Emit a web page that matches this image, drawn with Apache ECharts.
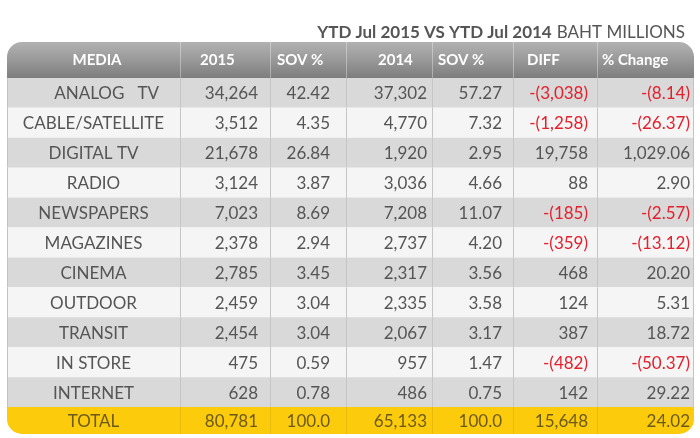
<!DOCTYPE html>
<html>
<head>
<meta charset="utf-8">
<script src="https://cdn.jsdelivr.net/npm/echarts@6/dist/echarts.min.js"></script>
<style>
  html, body { margin: 0; padding: 0; background: #fff; }
  #main { width: 700px; height: 438px; }
</style>
</head>
<body>
<div id="main"></div>
<script>
// table data
var headers = ['MEDIA', '2015', 'SOV %', '2014', 'SOV %', 'DIFF', '% Change'];
var media = ['      ANALOG   TV', 'CABLE/SATELLITE', 'DIGITAL TV', 'RADIO', 'NEWSPAPERS', 'MAGAZINES',
             'CINEMA', 'OUTDOOR', 'TRANSIT', 'IN STORE', 'INTERNET'];
var spend2015 = [34264, 3512, 21678, 3124, 7023, 2378, 2785, 2459, 2454, 475, 628];
var sov2015 = [42.42, 4.35, 26.84, 3.87, 8.69, 2.94, 3.45, 3.04, 3.04, 0.59, 0.78];
var spend2014 = [37302, 4770, 1920, 3036, 7208, 2737, 2317, 2335, 2067, 957, 486];
var sov2014 = [57.27, 7.32, 2.95, 4.66, 11.07, 4.20, 3.56, 3.58, 3.17, 1.47, 0.75];
var diff = [-3038, -1258, 19758, 88, -185, -359, 468, 124, 387, -482, 142];
var pctChange = [-8.14, -26.37, 1029.06, 2.90, -2.57, -13.12, 20.20, 5.31, 18.72, -50.37, 29.22];
var totalRow = ['TOTAL', 80781, 100.0, 65133, 100.0, 15648, 24.02];

// layout (x units = px from the table's left edge)
var colEdges = [0, 173, 263, 339, 425, 506, 590, 687];
var padRight = [0, 12, 16, 5, 11, 9, 4];
var headX = [90, 193, 270, 371, 431, 520, 595];
var decimals = [0, 0, 2, 0, 2, 0, 2];

var FONT = 'Lato';
var TEXT = '#555555';
var RED = '#e3202c';

function fmt(v, d) {
    var s = Math.abs(v).toLocaleString('en-US', {minimumFractionDigits: d, maximumFractionDigits: d});
    return v < 0 ? '-(' + s + ')' : s;
}

// build cells: r = -1 header, 0..10 body, 11 total
var cells = [];
headers.forEach(function (h, c) { cells.push({c: c, r: -1, text: h}); });
media.forEach(function (m, i) {
    var row = [m, spend2015[i], sov2015[i], spend2014[i], sov2014[i], diff[i], pctChange[i]];
    row.forEach(function (v, c) {
        cells.push({c: c, r: i, text: c === 0 ? v : fmt(v, decimals[c]), neg: c > 0 && v < 0});
    });
});
totalRow.forEach(function (v, c) {
    var d = (c === 2 || c === 4) ? 1 : decimals[c];
    cells.push({c: c, r: 11, text: c === 0 ? v : fmt(v, d)});
});

var headFill = new echarts.graphic.LinearGradient(0, 0, 0, 1, [
    {offset: 0, color: '#b2b2b2'},
    {offset: 0.5, color: '#999999'},
    {offset: 1, color: '#7d7d7d'}
]);

function renderCell(params, api) {
    var cell = cells[params.dataIndex];
    var c = cell.c, r = cell.r;
    var top = r < 0 ? -1.2 : r;
    var bot = r < 0 ? 0 : (r === 11 ? 11.9 : r + 1);
    var p0 = api.coord([colEdges[c], top]);
    var p1 = api.coord([colEdges[c + 1], bot]);
    var x = p0[0], y = p0[1], w = p1[0] - p0[0], h = p1[1] - p0[1];
    var rad = [0, 0, 0, 0];
    var fill, sep, color = TEXT, weight = 'normal', size = 17;
    if (r < 0) {
        fill = headFill; sep = 'rgba(255,255,255,0.35)'; color = '#ffffff'; weight = 'bold'; size = 15;
        if (c === 0) rad = [15, 0, 0, 0];
        if (c === 6) rad = [0, 15, 0, 0];
    } else if (r === 11) {
        fill = '#fbcb0c'; sep = 'rgba(0,0,0,0.07)'; color = '#6b5a1c';
        if (c === 0) rad = [0, 0, 0, 15];
        if (c === 6) rad = [0, 0, 15, 0];
    } else {
        fill = r % 2 === 0 ? '#d9d9d9' : '#f5f5f5'; sep = '#c6c6c6';
        if (cell.neg) color = RED;
    }
    var tx, align;
    if (r < 0) {
        tx = api.coord([headX[c], 0])[0];
        align = c === 0 ? 'center' : 'left';
    } else if (c === 0) {
        tx = x + w / 2; align = 'center';
    } else {
        tx = x + w - padRight[c]; align = 'right';
    }
    var children = [
        {type: 'rect', shape: {x: x, y: y, width: w, height: h, r: rad}, style: {fill: fill}},
        {type: 'text', style: {
            x: tx, y: y + h / 2 + (r < 0 ? 0 : 1), text: cell.text, align: align, verticalAlign: 'middle',
            fill: color, fontFamily: FONT, fontSize: size, fontWeight: weight
        }}
    ];
    if (c > 0) {
        children.push({type: 'line', shape: {x1: x + 0.5, y1: y, x2: x + 0.5, y2: y + h},
            style: {stroke: sep, lineWidth: 1}});
    }
    if (r >= 0 && r < 11 && (c === 0 || c === 6)) {
        var ex = c === 0 ? x + 0.5 : x + w - 0.5;
        children.push({type: 'line', shape: {x1: ex, y1: y, x2: ex, y2: y + h},
            style: {stroke: '#c2c2c2', lineWidth: 1}});
    }
    return {type: 'group', children: children};
}

var myChart = echarts.init(document.getElementById('main'));
var option = {
    animation: false,
    title: {
        text: '{b|YTD Jul 2015 VS YTD Jul 2014} {n|BAHT MILLIONS}',
        right: 10,
        top: 19,
        textStyle: {
            fontWeight: 'normal',
            rich: {
                b: {fontFamily: FONT, fontSize: 17, fontWeight: 'bold', color: '#555555'},
                n: {fontFamily: FONT, fontSize: 17, fontWeight: 'normal', color: '#555555'}
            }
        }
    },
    grid: {left: 7, top: 42, width: 687, height: 392},
    xAxis: {type: 'value', min: 0, max: 687, show: false},
    yAxis: {type: 'value', min: -1.2, max: 11.9, inverse: true, show: false},
    series: [{
        type: 'custom',
        renderItem: renderCell,
        data: cells.map(function (d) { return [d.c, d.r]; }),
        encode: {x: 0, y: 1}
    }]
};
myChart.setOption(option);
</script>
</body>
</html>
